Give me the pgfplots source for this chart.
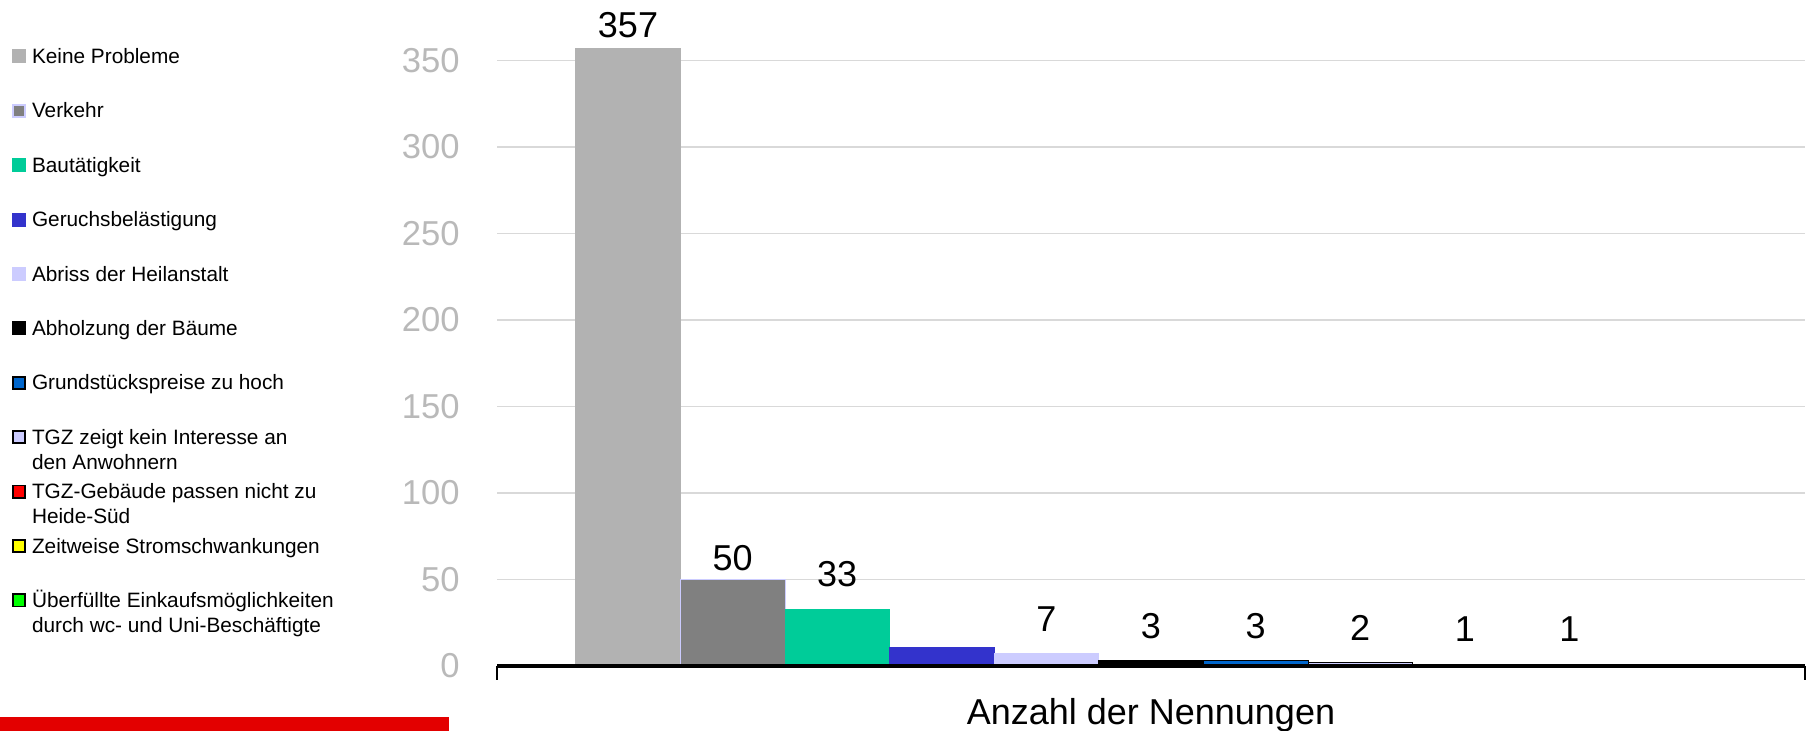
\documentclass[border=0pt]{standalone}
\usepackage{fontspec}
\setmainfont{Liberation Sans}
\usepackage{pgfplots}
\pgfplotsset{compat=1.18}
\definecolor{c1}{RGB}{178,178,178}
\definecolor{c2}{RGB}{128,128,128}
\definecolor{c2b}{RGB}{204,204,255}
\definecolor{c3}{RGB}{0,204,153}
\definecolor{c4}{RGB}{51,51,204}
\definecolor{c5}{RGB}{204,204,255}
\definecolor{c7}{RGB}{0,102,204}
\definecolor{c9}{RGB}{255,0,0}
\definecolor{c10}{RGB}{255,255,0}
\definecolor{c11}{RGB}{0,255,0}
\definecolor{gridc}{RGB}{217,217,217}
\definecolor{tickc}{RGB}{185,185,185}
\definecolor{redbar}{RGB}{227,0,0}
\newcommand{\leg}[1]{\smash{\parbox[t]{160pt}{#1}}}
\begin{document}
\begin{tikzpicture}
\path[use as bounding box] (0,0) rectangle (907pt,365.5pt);
\fill[redbar] (0,0) rectangle (224.5pt,7pt);
\begin{axis}[
  at={(248.5pt,32.5pt)}, anchor=south west,
  width=654pt, height=302.75pt, scale only axis,
  ybar=0pt, bar width=52.3pt,
  xmin=-1, xmax=1, ymin=0, ymax=350,
  clip=false,
  axis x line*=bottom, axis y line*=left,
  x axis line style={-, black, line width=1.4pt},
  y axis line style={draw=none},
  xtick={-1,1}, xticklabels={,},
  tick align=outside, major tick length=7pt,
  xtick style={black, line width=1.4pt},
  ytick={0,50,...,350}, ytick style={draw=none},
  ymajorgrids, grid style={gridc, line width=0.6pt},
  yticklabel style={font=\fontsize{17.3}{17.3}\selectfont, text=tickc, inner sep=0pt, xshift=-11.5pt},
  /pgf/number format/assume math mode=true,
  xlabel={Anzahl der Nennungen},
  xlabel style={at={(axis description cs:0.5,0)}, anchor=base, yshift=-29.5pt, font=\fontsize{18}{18}\selectfont, inner sep=0pt},
  every node near coord/.append style={font=\fontsize{18}{18}\selectfont, text=black, anchor=south, inner sep=0pt, yshift=11pt},
  legend image code/.code={\draw[#1, line width=0.9pt] (0.45pt,0.45pt) rectangle (6.55pt,6.55pt); \path (9.8pt,0pt);},
  legend cell align=left,
  legend style={at={(axis description cs:-0.37003,1.02395)}, xshift=-0.5pt, yshift=-1.75pt, anchor=north west, draw=none, fill=none, inner sep=0pt, outer sep=0pt, row sep=18.7pt, font=\fontsize{10.4}{12.5}\selectfont, cells={anchor=base west, inner sep=0pt}, nodes={inner sep=0pt, anchor=base west}},
]
\addplot[fill=c1, draw=c1, nodes near coords, every node near coord/.append style={yshift=-6pt}] coordinates {(0,357)};
\addlegendentry{\leg{Keine Probleme}}
\addplot[fill=c2, draw=c2b, nodes near coords, every node near coord/.append style={yshift=-7pt}] coordinates {(0,50)};
\addlegendentry{\leg{Verkehr}}
\addplot[fill=c3, draw=c3, nodes near coords] coordinates {(0,33)};
\addlegendentry{\leg{Bautätigkeit}}
\addplot[fill=c4, draw=c4] coordinates {(0,11)};
\addlegendentry{\leg{Geruchsbelästigung}}
\addplot[fill=c5, draw=c5, nodes near coords] coordinates {(0,7)};
\addlegendentry{\leg{Abriss der Heilanstalt}}
\addplot[fill=black, draw=black, nodes near coords] coordinates {(0,3)};
\addlegendentry{\leg{Abholzung der Bäume}}
\addplot[fill=c7, draw=black, nodes near coords] coordinates {(0,3)};
\addlegendentry{\leg{Grundstückspreise zu hoch}}
\addplot[fill=c5, draw=black, nodes near coords] coordinates {(0,2)};
\addlegendentry{\leg{TGZ zeigt kein Interesse an\\den Anwohnern}}
\addplot[fill=c9, draw=black, nodes near coords] coordinates {(0,1)};
\addlegendentry{\leg{TGZ-Gebäude passen nicht zu\\Heide-Süd}}
\addplot[fill=c10, draw=black, nodes near coords] coordinates {(0,1)};
\addlegendentry{\leg{Zeitweise Stromschwankungen}}
\addplot[fill=c11, draw=black] coordinates {(0,1)};
\addlegendentry{\leg{Überfüllte Einkaufsmöglichkeiten\\durch wc- und Uni-Beschäftigte}}
\draw[black, line width=1.6pt] (axis cs:-1,0) -- (axis cs:1,0);
\end{axis}
\end{tikzpicture}
\end{document}
